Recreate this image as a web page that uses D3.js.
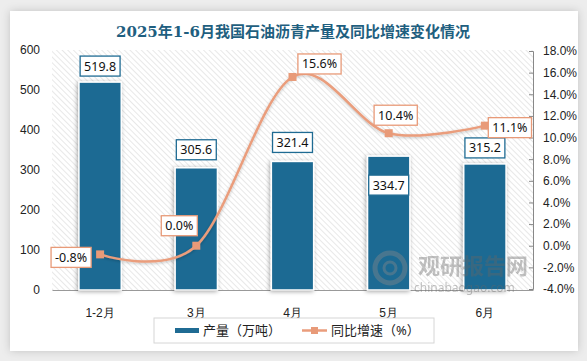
<!DOCTYPE html>
<html>
<head>
<meta charset="utf-8">
<script src="https://cdn.jsdelivr.net/npm/d3@7"></script>
<style>
  body { margin: 0; background: #ededed; }
  svg { display: block; font-family: "Noto Sans", "Noto Sans CJK SC", sans-serif; }
</style>
</head>
<body>
<svg width="587" height="361"></svg>
<script>
// data
var months = ['1-2月', '3月', '4月', '5月', '6月'];
var output = [519.8, 305.6, 321.4, 334.7, 315.2];
var growth = [-0.8, 0.0, 15.6, 10.4, 11.1];
var leftTicks = [0, 100, 200, 300, 400, 500, 600];
var rightTicks = [-4, -2, 0, 2, 4, 6, 8, 10, 12, 14, 16, 18];

var svg = d3.select('svg');
var defs = svg.append('defs');

// card shadow + hatch pattern + bar shadow
var sh = defs.append('filter').attr('id', 'card').attr('x', -0.1).attr('y', -0.1).attr('width', 1.2).attr('height', 1.2);
sh.append('feDropShadow').attr('dx', 0).attr('dy', 0).attr('stdDeviation', 4).attr('flood-color', '#000').attr('flood-opacity', 0.18);

var bs = defs.append('filter').attr('id', 'barsh').attr('x', -0.3).attr('y', -0.3).attr('width', 1.6).attr('height', 1.6);
bs.append('feDropShadow').attr('dx', -1).attr('dy', 1).attr('stdDeviation', 2).attr('flood-color', '#000').attr('flood-opacity', 0.35);

var ls = defs.append('filter').attr('id', 'linesh').attr('x', -0.2).attr('y', -0.2).attr('width', 1.4).attr('height', 1.4);
ls.append('feDropShadow').attr('dx', 0).attr('dy', 1).attr('stdDeviation', 1.5).attr('flood-color', '#000').attr('flood-opacity', 0.25);

var pat = defs.append('pattern').attr('id', 'hatch').attr('patternUnits', 'userSpaceOnUse')
  .attr('width', 4).attr('height', 4).attr('patternTransform', 'rotate(-45)');
pat.append('line').attr('x1', 0).attr('y1', 0).attr('x2', 0).attr('y2', 4)
  .attr('stroke', '#d9d9d9').attr('stroke-width', 1.2);

svg.append('rect').attr('x', 10).attr('y', 11).attr('width', 568).attr('height', 340)
  .attr('fill', '#fff').attr('filter', 'url(#card)');

svg.append('text').attr('x', 293).attr('y', 37).attr('text-anchor', 'middle')
  .attr('font-size', 15).attr('font-weight', 'bold').attr('fill', '#1f5f80')
  .style('font-family', '"DejaVu Serif", "Noto Sans CJK SC", serif')
  .text('2025年1-6月我国石油沥青产量及同比增速变化情况');

var pLeft = 52, pRight = 533, pTop = 50, pBottom = 290;

var x = d3.scaleBand().domain(months).range([pLeft, pRight]).paddingInner(0.56).paddingOuter(0.28);
var y = d3.scaleLinear().domain([0, 600]).range([pBottom, pTop]);
var y2 = d3.scaleLinear().domain([-4, 18]).range([289, 51]);

svg.append('rect').attr('x', pLeft).attr('y', pTop).attr('width', pRight - pLeft).attr('height', pBottom - pTop)
  .attr('fill', 'url(#hatch)');

// left axis
var ga = svg.append('g').attr('transform', 'translate(' + (pLeft - 6) + ',0)')
  .call(d3.axisLeft(y).tickValues(leftTicks).tickSize(0).tickPadding(6));
ga.select('.domain').remove();
ga.selectAll('text').attr('font-size', 12).attr('fill', '#222');

// right axis
var gr = svg.append('g').attr('transform', 'translate(' + pRight + ',0)')
  .call(d3.axisRight(y2).tickValues(rightTicks).tickSize(-4).tickSizeOuter(-4).tickPadding(10)
    .tickFormat(function(d) { return d.toFixed(1) + '%'; }));
gr.select('.domain').attr('stroke', '#888');
gr.selectAll('.tick line').attr('stroke', '#888');
gr.selectAll('text').attr('font-size', 12).attr('fill', '#222');

// bottom axis
var gb = svg.append('g').attr('transform', 'translate(0,' + pBottom + ')')
  .call(d3.axisBottom(x).tickSize(0).tickPadding(18));
gb.select('.domain').attr('stroke', '#999').attr('stroke-width', 1.2);
gb.selectAll('text').attr('font-size', 12).attr('fill', '#222');

// bars
svg.append('g').selectAll('rect').data(output).enter().append('rect')
  .attr('x', function(d, i) { return x(months[i]); })
  .attr('y', function(d) { return y(d); })
  .attr('width', x.bandwidth())
  .attr('height', function(d) { return pBottom - y(d); })
  .attr('fill', '#1f6b93')
  .attr('stroke', '#fff').attr('stroke-width', 1.5)
  .attr('filter', 'url(#barsh)');

// watermark
var wm = svg.append('g').attr('opacity', 0.4);
wm.append('circle').attr('cx', 390).attr('cy', 268).attr('r', 15).attr('fill', 'none').attr('stroke', '#8a8a8a').attr('stroke-width', 5);
wm.append('circle').attr('cx', 390).attr('cy', 268).attr('r', 6).attr('fill', 'none').attr('stroke', '#8a8a8a').attr('stroke-width', 3);
wm.append('text').attr('x', 418).attr('y', 274).attr('font-size', 22).attr('font-weight', 'bold').attr('fill', '#666').text('观研报告网');
wm.append('text').attr('x', 414).attr('y', 292).attr('font-size', 12).attr('fill', '#666').text('chinabaogao.com');

// growth line
var pts = growth.map(function(d, i) { return [x(months[i]) + x.bandwidth() / 2, y2(d)]; });
svg.append('path').attr('d', d3.line().curve(d3.curveCatmullRom.alpha(0))(pts))
  .attr('fill', 'none').attr('stroke', '#ea9d7c').attr('stroke-width', 2.5).attr('filter', 'url(#linesh)');
svg.append('g').selectAll('rect').data(pts).enter().append('rect')
  .attr('x', function(d) { return d[0] - 4; }).attr('y', function(d) { return d[1] - 4; })
  .attr('width', 8).attr('height', 8).attr('fill', '#e89a78');

// label boxes
function box(cx, cy, txt, col) {
  var g = svg.append('g');
  var t = g.append('text').attr('x', cx).attr('y', cy + 4.5).attr('text-anchor', 'middle')
    .attr('font-size', 12.5).attr('fill', '#111').text(txt);
  var w = t.node().getComputedTextLength() + 8;
  g.insert('rect', 'text').attr('x', cx - w / 2).attr('y', cy - 10).attr('width', w).attr('height', 20)
    .attr('fill', '#fff').attr('stroke', col).attr('stroke-width', 1.3);
}

// bar value labels: offset from bar top (5月 sits inside the bar)
var barOff = [-16, -18, -19, 29, -16];
output.forEach(function(d, i) {
  box(x(months[i]) + x.bandwidth() / 2, y(d) + barOff[i], d.toFixed(1), '#1f6b93');
});

// growth labels: offsets from the point
var gOff = [[-29, 3], [-17, -20], [27, -13], [7, -18], [25, 2]];
growth.forEach(function(d, i) {
  box(pts[i][0] + gOff[i][0], pts[i][1] + gOff[i][1], d.toFixed(1) + '%', '#e89a78');
});

// legend
var lg = svg.append('g');
lg.append('rect').attr('x', 154).attr('y', 318).attr('width', 280).attr('height', 25)
  .attr('fill', '#fff').attr('stroke', '#d6d6d6');
lg.append('rect').attr('x', 175).attr('y', 328).attr('width', 24).attr('height', 5).attr('fill', '#1f6b93');
lg.append('text').attr('x', 203).attr('y', 335).attr('font-size', 13).attr('fill', '#222').text('产量（万吨）');
lg.append('line').attr('x1', 302).attr('x2', 327).attr('y1', 330.5).attr('y2', 330.5)
  .attr('stroke', '#ea9d7c').attr('stroke-width', 2.5);
lg.append('rect').attr('x', 311).attr('y', 327).attr('width', 7).attr('height', 7).attr('fill', '#e89a78');
lg.append('text').attr('x', 331).attr('y', 335).attr('font-size', 13).attr('fill', '#222').text('同比增速（%）');
</script>
</body>
</html>
